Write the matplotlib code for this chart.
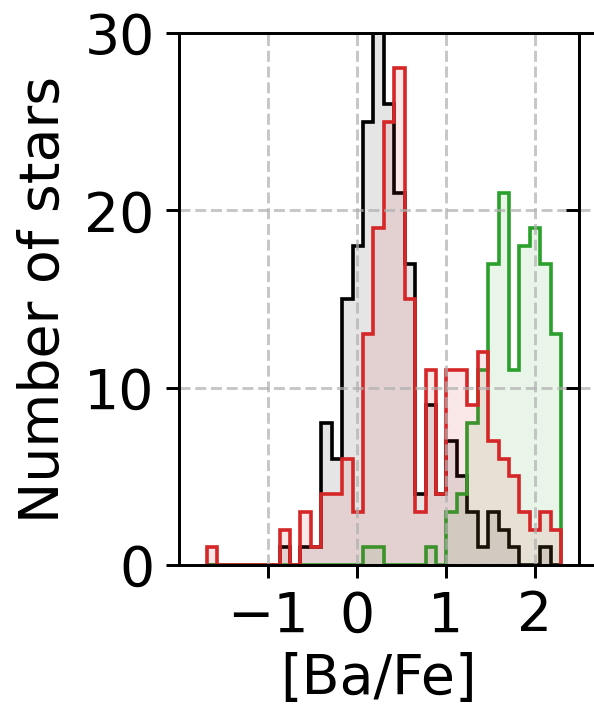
import numpy as np
import matplotlib
matplotlib.use("Agg")
import matplotlib.pyplot as plt

# bin edges of [Ba/Fe]
edges = np.linspace(-1.69, 2.30, 35)

black_counts = [0, 0, 0, 0, 0, 0, 0, 1, 0, 1, 1, 8, 6, 15, 18, 25, 31, 26, 21, 17,
                4, 9, 4, 7, 5, 3, 1, 3, 2, 1, 0, 0, 1, 0]
green_counts = [0, 0, 0, 0, 0, 0, 0, 0, 0, 0, 0, 0, 0, 0, 0, 1, 1, 0, 0, 0,
                0, 1, 0, 3, 4, 8, 11, 17, 21, 11, 18, 19, 17, 13]
red_counts = [1, 0, 0, 0, 0, 0, 0, 2, 0, 3, 1, 4, 4, 6, 3, 13, 19, 25, 28, 15,
              3, 11, 4, 11, 11, 9, 12, 7, 6, 5, 3, 2, 3, 2]

xticks = [-1, 0, 1, 2]
yticks = [0, 10, 20, 30]

plt.rcParams['font.family'] = ['DejaVu Sans']
plt.rcParams['font.size'] = 16.8
plt.rcParams['axes.linewidth'] = 0.9
plt.rcParams['xtick.major.size'] = 3.9
plt.rcParams['ytick.major.size'] = 3.9
plt.rcParams['xtick.major.width'] = 0.9
plt.rcParams['ytick.major.width'] = 0.9

fig = plt.figure(figsize=(2.5, 2.98), dpi=237.6)
b = 1 - 565 / 708
h = (565 - 33) / 708
ax = fig.add_axes([179 / 594, b, (579 - 179) / 594, h])
ax2 = fig.add_axes([579 / 594, b, 0.3, h], sharey=ax)

for counts, col in [(black_counts, 'black'), (green_counts, 'tab:green'),
                    (red_counts, 'tab:red')]:
    ax.stairs(counts, edges, fill=True, color=col, alpha=0.1, lw=0)
    ax.stairs(counts, edges, fill=False, color=col, lw=1.1)

ax.set_xlim(-2.0, 2.5)
ax.set_ylim(0, 30)
ax.set_xticks(xticks)
ax.set_yticks(yticks)
ax.grid(True, ls='--', color='#b0b0b0', alpha=0.7, lw=0.9)
ax.set_xlabel('[Ba/Fe]', labelpad=2.5)
ax.set_ylabel('Number of stars')

ax2.set_xlim(0, 1)
ax2.set_xticks([])
ax2.tick_params(axis='y', labelleft=False)
ax2.grid(True, axis='y', ls='--', color='#b0b0b0', alpha=0.7, lw=0.9)

fig.savefig('out.png', dpi=237.6)
